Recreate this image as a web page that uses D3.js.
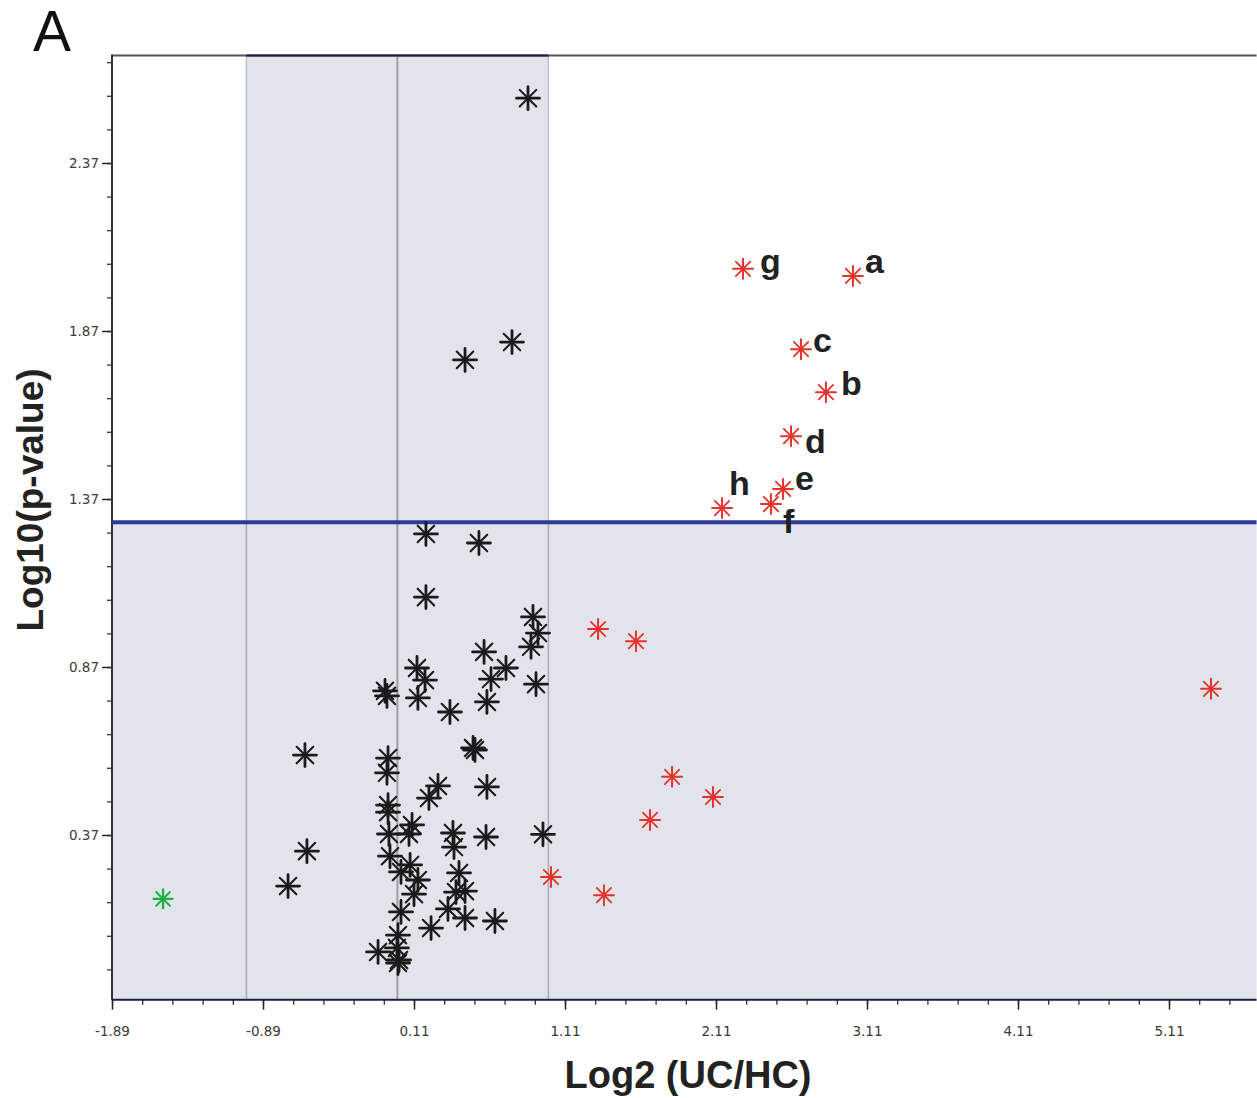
<!DOCTYPE html>
<html>
<head>
<meta charset="utf-8">
<title>Log10(p-value) vs Log2 (UC/HC)</title>
<script src="https://d3js.org/d3.v7.min.js"></script>
<style>
  body { margin: 0; background: #fff; }
  svg text { font-family: "Liberation Sans", Arial, sans-serif; }
  .tick text { font-family: "DejaVu Sans", sans-serif; }
</style>
</head>
<body>
<svg id="chart" width="1257" height="1098"></svg>
<script>

// values: [log2 fold change, log10 p]
var blackPoints = [
  [0.865, 2.563], [0.448, 1.784], [0.759, 1.837], [0.189, 1.266], [0.540, 1.239],
  [0.189, 1.078], [0.898, 1.019], [0.931, 0.971], [0.885, 0.930], [0.574, 0.915],
  [0.719, 0.867], [0.130, 0.867], [0.183, 0.831], [0.620, 0.834], [0.918, 0.819],
  [-0.082, 0.799], [-0.069, 0.784], [0.136, 0.778], [0.593, 0.766], [0.348, 0.736],
  [0.501, 0.629], [0.514, 0.623], [-0.062, 0.599], [-0.069, 0.555], [0.269, 0.516],
  [0.593, 0.513], [0.209, 0.480], [-0.062, 0.459], [-0.062, 0.438], [0.097, 0.400],
  [-0.056, 0.373], [0.077, 0.373], [0.368, 0.376], [0.587, 0.364], [0.964, 0.372],
  [0.375, 0.334], [-0.049, 0.307], [0.084, 0.281], [0.024, 0.260], [0.136, 0.236],
  [0.408, 0.257], [0.388, 0.200], [0.448, 0.203], [0.110, 0.194], [0.024, 0.141],
  [0.335, 0.150], [0.223, 0.093], [0.448, 0.123], [0.646, 0.114], [0.004, 0.072],
  [-0.128, 0.022], [-0.003, 0.034], [0.011, -0.002], [0.004, -0.011],
  [-0.612, 0.608], [-0.599, 0.322], [-0.724, 0.218]
];

var redPoints = [
  [2.289, 2.055], [3.017, 2.034], [2.673, 1.816], [2.838, 1.688],
  [2.607, 1.557], [2.554, 1.400], [2.474, 1.355], [2.150, 1.343],
  [1.329, 0.983], [1.580, 0.947], [5.388, 0.805], [1.819, 0.543],
  [2.090, 0.483], [1.673, 0.415], [1.017, 0.245], [1.368, 0.191]
];

var greenPoints = [[-1.552, 0.180]];

// letters for the first eight red points
var redLabels = ["g", "a", "c", "b", "d", "e", "f", "h"];

var xMajor = [-1.89, -0.89, 0.11, 1.11, 2.11, 3.11, 4.11, 5.11];
var yMajor = [0.37, 0.87, 1.37, 1.87, 2.37];

var pThreshold = 1.301;   // -log10(0.05)
var foldBand = [-1, 1];

var svg = d3.select("#chart");

var x = d3.scaleLinear().domain([-1.89, 5.69]).range([112, 112 + 7.58 * 151]);
var y = d3.scaleLinear().domain([-0.12, 2.69]).range([163 + 2.49 * 336, 163 - 0.32 * 336]);

var plotLeft = x.range()[0], plotRight = x.range()[1];
var plotBottom = y.range()[0], plotTop = y.range()[1];
var shade = "#e1e4ea";
var fmt = function(v) { return d3.format(".2f")(v).replace("\u2212", "-"); };

// shaded areas
svg.append("rect")
  .attr("x", x(foldBand[0])).attr("y", plotTop)
  .attr("width", x(foldBand[1]) - x(foldBand[0]))
  .attr("height", y(pThreshold) - plotTop)
  .attr("fill", shade)
  .attr("stroke", "#b9c3dc").attr("stroke-width", 1.5);

svg.append("rect")
  .attr("x", plotLeft).attr("y", y(pThreshold))
  .attr("width", plotRight - plotLeft).attr("height", plotBottom - y(pThreshold))
  .attr("fill", shade);

// gray guide lines
foldBand.forEach(function(v) {
  svg.append("line")
    .attr("x1", x(v)).attr("x2", x(v))
    .attr("y1", y(pThreshold)).attr("y2", plotBottom)
    .attr("stroke", "#a8acb4").attr("stroke-width", 1.5);
});
svg.append("line")
  .attr("x1", x(0)).attr("x2", x(0))
  .attr("y1", plotTop).attr("y2", plotBottom)
  .attr("stroke", "#9c9fa6").attr("stroke-width", 2);

// frame
svg.append("line")
  .attr("x1", plotLeft).attr("x2", plotRight).attr("y1", plotTop).attr("y2", plotTop)
  .attr("stroke", "#555").attr("stroke-width", 2);
svg.append("line")
  .attr("x1", x(foldBand[0])).attr("x2", x(foldBand[1])).attr("y1", plotTop).attr("y2", plotTop)
  .attr("stroke", "#1d1d45").attr("stroke-width", 2);

// axes
function minorTicks(start, step, lo, hi) {
  var out = [];
  for (var k = -40; k < 80; k++) {
    var v = +(start + k * step).toFixed(2);
    if (v >= lo && v <= hi) out.push(v);
  }
  return out;
}

var xMinor = minorTicks(-1.89, 0.2, -1.89, 5.69);
var yMinor = minorTicks(0.37, 0.1, -0.12, 2.69);

svg.append("g")
  .attr("transform", "translate(0," + plotBottom + ")")
  .call(d3.axisBottom(x).tickValues(xMinor).tickSize(5).tickFormat(""))
  .call(function(g) { g.select(".domain").remove(); })
  .selectAll("line").attr("stroke", "#333").attr("stroke-width", 1.3);

svg.append("g")
  .attr("transform", "translate(0," + plotBottom + ")")
  .call(d3.axisBottom(x).tickValues(xMajor).tickSize(10).tickPadding(17).tickFormat(fmt))
  .call(function(g) { g.select(".domain").remove(); })
  .call(function(g) {
    g.selectAll("line").attr("stroke", "#222").attr("stroke-width", 1.5);
    g.selectAll("text").attr("fill", "#3a3a3a").style("font-size", "13.5px");
  });

svg.append("g")
  .attr("transform", "translate(" + plotLeft + ",0)")
  .call(d3.axisLeft(y).tickValues(yMinor).tickSize(5).tickFormat(""))
  .call(function(g) { g.select(".domain").remove(); })
  .selectAll("line").attr("stroke", "#333").attr("stroke-width", 1.3);

svg.append("g")
  .attr("transform", "translate(" + plotLeft + ",0)")
  .call(d3.axisLeft(y).tickValues(yMajor).tickSize(10).tickPadding(3).tickFormat(fmt))
  .call(function(g) { g.select(".domain").remove(); })
  .call(function(g) {
    g.selectAll("line").attr("stroke", "#222").attr("stroke-width", 1.5);
    g.selectAll("text").attr("fill", "#3a3a3a").style("font-size", "13.5px");
  });

svg.append("line")
  .attr("x1", plotLeft).attr("x2", plotLeft).attr("y1", plotTop - 1).attr("y2", plotBottom)
  .attr("stroke", "#333").attr("stroke-width", 2);
svg.append("line")
  .attr("x1", plotLeft).attr("x2", plotRight).attr("y1", plotBottom).attr("y2", plotBottom)
  .attr("stroke", "#1d1d45").attr("stroke-width", 2);

// significance threshold
svg.append("line")
  .attr("x1", plotLeft).attr("x2", plotRight)
  .attr("y1", y(pThreshold)).attr("y2", y(pThreshold))
  .attr("stroke", "#2f3a98").attr("stroke-width", 4);

// asterisk markers
function crossPath(r) {
  return "M" + (-r) + ",0L" + r + ",0M0," + (-r) + "L0," + r;
}
function diagPath(r) {
  var d = r * 0.72;
  return "M" + (-d) + "," + (-d) + "L" + d + "," + d + "M" + (-d) + "," + d + "L" + d + "," + (-d);
}

function drawStars(data, r, color, wMain, wDiag, cls) {
  var g = svg.append("g").attr("class", cls)
    .selectAll("g").data(data).enter().append("g")
    .attr("transform", function(d) { return "translate(" + x(d[0]) + "," + y(d[1]) + ")"; });
  g.append("path").attr("d", crossPath(r))
    .attr("stroke", color).attr("stroke-width", wMain).attr("stroke-linecap", "round");
  g.append("path").attr("d", diagPath(r))
    .attr("stroke", color).attr("stroke-width", wDiag).attr("stroke-linecap", "round");
}

drawStars(blackPoints, 11.5, "#1b1b1b", 2.8, 2.1, "black");
drawStars(redPoints, 10, "#e5332c", 2.0, 1.8, "red");
drawStars(greenPoints, 9.5, "#1fae48", 2.3, 2.0, "green");

// point letters
var labelOffsets = {
  g: [17, 4], a: [12, -3], c: [12, 3], b: [15, 3],
  d: [14, 17], e: [12, 1], f: [12, 29], h: [7, -13]
};
svg.append("g").selectAll("text")
  .data(redLabels).enter().append("text")
  .attr("x", function(d, i) { return x(redPoints[i][0]) + labelOffsets[d][0]; })
  .attr("y", function(d, i) { return y(redPoints[i][1]) + labelOffsets[d][1]; })
  .attr("font-size", 34).attr("font-weight", "bold").attr("fill", "#222")
  .text(function(d) { return d; });

// titles
svg.append("text")
  .attr("x", 688).attr("y", 1088)
  .attr("text-anchor", "middle")
  .attr("font-size", 38).attr("font-weight", "bold").attr("fill", "#222")
  .text("Log2 (UC/HC)");

svg.append("text")
  .attr("transform", "translate(43,500) rotate(-90)")
  .attr("text-anchor", "middle")
  .attr("font-size", 37).attr("font-weight", "bold").attr("fill", "#222")
  .text("Log10(p-value)");

svg.append("text")
  .attr("x", 33).attr("y", 51)
  .attr("font-size", 57).attr("fill", "#111")
  .text("A");

</script>
</body>
</html>
